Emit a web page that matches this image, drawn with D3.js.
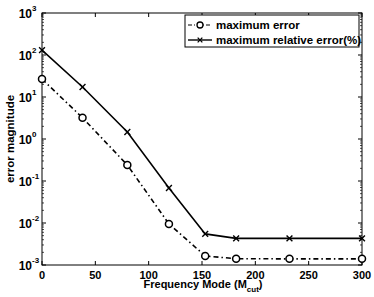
<!DOCTYPE html>
<html>
<head>
<meta charset="utf-8">
<script src="https://cdn.jsdelivr.net/npm/d3@7"></script>
<style>
  body { margin: 0; background: #fff; }
  text { font-family: "Liberation Sans", Arial, sans-serif; font-weight: bold; }
</style>
</head>
<body>
<div id="chart"></div>
<script>
const width = 374;
const height = 297;

// data
const modes = [0, 38, 80, 119, 153, 182, 232, 300];
const maxError = [26.8, 3.2, 0.24, 0.0095, 0.00164, 0.00141, 0.0014, 0.0014];
const maxRelError = [131, 17.3, 1.47, 0.068, 0.0055, 0.0043, 0.0043, 0.0043];
const xTicks = [0, 50, 100, 150, 200, 250, 300];
const yExps = [-3, -2, -1, 0, 1, 2, 3];
const legendLabels = ["maximum error", "maximum relative error(%)"];

const margin = {top: 13, right: 12, bottom: 32, left: 42};

const svg = d3.select("#chart")
  .append("svg")
  .attr("width", width)
  .attr("height", height);

const x = d3.scaleLinear().domain([0, 300]).range([margin.left, width - margin.right]);
const y = d3.scaleLog().domain([1e-3, 1e3]).range([height - margin.bottom, margin.top]);

// minor log ticks
const minor = [];
for (let e = -3; e < 3; e++) {
  for (let m = 2; m <= 9; m++) minor.push(m * Math.pow(10, e));
}

const g = svg.append("g");

// box
g.append("rect")
  .attr("x", x(0)).attr("y", y(1e3))
  .attr("width", x(300) - x(0)).attr("height", y(1e-3) - y(1e3))
  .attr("fill", "none").attr("stroke", "#000").attr("stroke-width", 1);

// x ticks (inside, top and bottom)
g.selectAll(".xt").data(xTicks).join("path")
  .attr("d", d => `M${x(d)},${y(1e-3)}v-4M${x(d)},${y(1e3)}v4`)
  .attr("stroke", "#000");

// y ticks major
g.selectAll(".yt").data(yExps).join("path")
  .attr("d", d => `M${x(0)},${y(Math.pow(10, d))}h4M${x(300)},${y(Math.pow(10, d))}h-4`)
  .attr("stroke", "#000");

// y ticks minor
g.selectAll(".ym").data(minor).join("path")
  .attr("d", d => `M${x(0)},${y(d)}h2M${x(300)},${y(d)}h-2`)
  .attr("stroke", "#000").attr("stroke-width", 0.7);

// x tick labels
g.selectAll(".xl").data(xTicks).join("text")
  .attr("x", d => x(d)).attr("y", y(1e-3) + 14)
  .attr("text-anchor", "middle")
  .attr("font-size", 11)
  .text(d => d);

// y tick labels 10^n
g.selectAll(".yl").data(yExps).join("text")
  .attr("x", 32).attr("y", d => y(Math.pow(10, d)) + 5)
  .attr("text-anchor", "end")
  .attr("font-size", 12)
  .text("10");
g.selectAll(".ye").data(yExps).join("text")
  .attr("x", 32).attr("y", d => y(Math.pow(10, d)) - 2)
  .attr("font-size", 8)
  .text(d => d);

// axis labels
svg.append("text")
  .attr("transform", `translate(14,${(y(1e3) + y(1e-3)) / 2}) rotate(-90)`)
  .attr("text-anchor", "middle")
  .attr("font-size", 11.5)
  .text("error magnitude");

const xl = svg.append("text")
  .attr("x", 203).attr("y", 288)
  .attr("text-anchor", "middle")
  .attr("font-size", 11);
xl.append("tspan").text("Frequency Mode (M");
xl.append("tspan").attr("dy", 4).attr("font-size", 8).text("cut");
xl.append("tspan").attr("dy", -4).text(")");

const line = vals => d3.line()
  .x((d, i) => x(modes[i]))
  .y(d => y(d))(vals);

// series
g.append("path").attr("d", line(maxError))
  .attr("fill", "none").attr("stroke", "#000").attr("stroke-width", 1.6)
  .attr("stroke-dasharray", "5,3,1.5,3");
g.append("path").attr("d", line(maxRelError))
  .attr("fill", "none").attr("stroke", "#000").attr("stroke-width", 1.6);

g.selectAll(".mc").data(maxError).join("circle")
  .attr("cx", (d, i) => x(modes[i])).attr("cy", d => y(d))
  .attr("r", 3.5).attr("fill", "#fff").attr("stroke", "#000").attr("stroke-width", 1.5);

const cross = d3.symbol().type(d3.symbolX).size(24);
g.selectAll(".mx").data(maxRelError).join("path")
  .attr("transform", (d, i) => `translate(${x(modes[i])},${y(d)})`)
  .attr("d", cross)
  .attr("stroke", "#000").attr("stroke-width", 1.4);

// legend
const lg = svg.append("g");
lg.append("rect")
  .attr("x", 185).attr("y", 15).attr("width", 174).attr("height", 32)
  .attr("fill", "#fff").attr("stroke", "#000");
lg.append("path").attr("d", "M188,25h24")
  .attr("stroke", "#000").attr("stroke-width", 1.2).attr("stroke-dasharray", "4,2,1,2");
lg.append("circle").attr("cx", 200).attr("cy", 25).attr("r", 3)
  .attr("fill", "#fff").attr("stroke", "#000").attr("stroke-width", 1.3);
lg.append("path").attr("d", "M188,40h24")
  .attr("stroke", "#000").attr("stroke-width", 1.4);
lg.append("path").attr("transform", "translate(200,40)")
  .attr("d", d3.symbol().type(d3.symbolX).size(16))
  .attr("stroke", "#000").attr("stroke-width", 1.3);
lg.selectAll(".lt").data(legendLabels).join("text")
  .attr("x", 216).attr("y", (d, i) => 28.5 + i * 15)
  .attr("font-size", 11.5)
  .text(d => d);
</script>
</body>
</html>
